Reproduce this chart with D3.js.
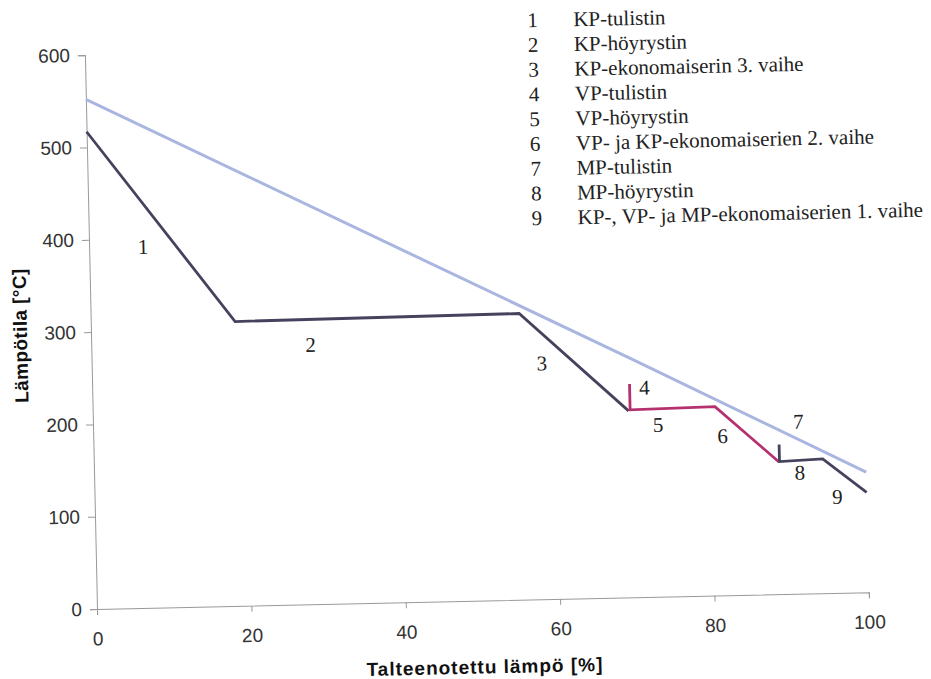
<!DOCTYPE html>
<html>
<head>
<meta charset="utf-8">
<script src="https://cdn.jsdelivr.net/npm/d3@7"></script>
<style>
  html, body { margin: 0; padding: 0; background: #fff; }
  svg { display: block; }
</style>
</head>
<body>
<svg id="chart" width="931" height="679"></svg>
<script>
// ---- data ----
const xTicks = [0, 20, 40, 60, 80, 100];
const yTicks = [0, 100, 200, 300, 400, 500, 600];
const xTitle = "Talteenotettu lämpö [%]";
const yTitle = "Lämpötila [°C]";

// hot flue gas line (x = recovered heat %, y = temperature °C)
const gasX = [0, 69.7, 100];
const gasY = [552, 259, 130];

// water/steam side segments
const kpX = [0, 18.7, 55.5, 69.4];
const kpY = [517, 308, 310, 202];
const vpX = [69.6, 69.6, 80.6, 88.7];
const vpY = [231, 203, 204.5, 143.4];
const mpX = [88.8, 88.8, 94.4, 100];
const mpY = [162, 143.5, 145.3, 108];

// segment number labels placed in data coordinates
const labelNums = ["1", "2", "3", "4", "5", "6", "7", "8", "9"];
const labelX = [7.0, 28.4, 58.3, 71.5, 73.2, 81.5, 91.35, 91.4, 96.2];
const labelY = [391, 281, 255.5, 226.7, 186, 172.5, 186.3, 131, 104];

// legend
const legendNums = ["1", "2", "3", "4", "5", "6", "7", "8", "9"];
const legendTexts = [
  "KP-tulistin",
  "KP-höyrystin",
  "KP-ekonomaiserin 3. vaihe",
  "VP-tulistin",
  "VP-höyrystin",
  "VP- ja KP-ekonomaiserien 2. vaihe",
  "MP-tulistin",
  "MP-höyrystin",
  "KP-, VP- ja MP-ekonomaiserien 1. vaihe"
];

// ---- drawing ----
const svg = d3.select("#chart");
const ox = 97, oy = 609, pw = 772, ph = 554;
const x = d3.scaleLinear().domain([0, 100]).range([ox, ox + pw]);
const y = d3.scaleLinear().domain([0, 600]).range([oy, oy - ph]);

// the scanned page is slightly tilted
const root = svg.append("g").attr("transform", `rotate(-1.25, ${ox}, ${oy})`);

const sans = "'Liberation Sans', Arial, Helvetica, sans-serif";
const serif = "'Liberation Serif', 'Times New Roman', serif";

// axes
const xAxis = d3.axisBottom(x).tickValues(xTicks).tickSize(6).tickPadding(17).tickFormat(d3.format("d"));
const yAxis = d3.axisLeft(y).tickValues(yTicks).tickSize(7).tickPadding(8).tickFormat(d3.format("d"));

const gx = root.append("g").attr("transform", `translate(0,${oy})`).call(xAxis);
const gy = root.append("g").attr("transform", `translate(${ox},0)`).call(yAxis);
[gx, gy].forEach(g => {
  g.select(".domain").attr("stroke", "#999").attr("stroke-width", 1);
  g.selectAll(".tick line").attr("stroke", "#999").attr("stroke-width", 1);
  g.selectAll(".tick text").attr("fill", "#333").style("font-family", sans).style("font-size", "19px");
});

// titles
root.append("text")
  .attr("x", 483.6).attr("y", 675.4)
  .attr("text-anchor", "middle").attr("dominant-baseline", "central")
  .style("font-family", sans).style("font-size", "19px").style("font-weight", "bold")
  .style("letter-spacing", "1px").attr("fill", "#111")
  .text(xTitle);
root.append("text")
  .attr("transform", "translate(26.5,334) rotate(-90)")
  .attr("text-anchor", "middle").attr("dominant-baseline", "central")
  .style("font-family", sans).style("font-size", "19px").style("font-weight", "bold")
  .style("letter-spacing", "0.4px").attr("fill", "#111")
  .text(yTitle);

// lines
const line = d3.line().x(d => x(d[0])).y(d => y(d[1]));
function pts(xs, ys) { return xs.map((v, i) => [v, ys[i]]); }

root.append("path").datum(pts(gasX, gasY)).attr("d", line)
  .attr("fill", "none").attr("stroke", "#a9b6e0").attr("stroke-width", 3);
root.append("path").datum(pts(kpX, kpY)).attr("d", line)
  .attr("fill", "none").attr("stroke", "#46425e").attr("stroke-width", 2.8).attr("stroke-linejoin", "miter");
root.append("path").datum(pts(vpX, vpY)).attr("d", line)
  .attr("fill", "none").attr("stroke", "#b5306f").attr("stroke-width", 2.8).attr("stroke-linejoin", "miter");
root.append("path").datum(pts(mpX, mpY)).attr("d", line)
  .attr("fill", "none").attr("stroke", "#46425e").attr("stroke-width", 2.8).attr("stroke-linejoin", "miter");

// segment labels
root.append("g").selectAll("text").data(labelNums).join("text")
  .attr("x", (d, i) => x(labelX[i])).attr("y", (d, i) => y(labelY[i]))
  .attr("text-anchor", "middle").attr("dominant-baseline", "central")
  .style("font-family", serif).style("font-size", "21px").attr("fill", "#222")
  .text(d => d);

// legend
const lg = root.append("g");
const rowY0 = 29.8, rowStep = 24.75;
lg.selectAll("text.num").data(legendNums).join("text").attr("class", "num")
  .attr("x", 540).attr("y", (d, i) => rowY0 + i * rowStep)
  .attr("dominant-baseline", "central")
  .style("font-family", serif).style("font-size", "21px").attr("fill", "#222")
  .text(d => d);
lg.selectAll("text.lab").data(legendTexts).join("text").attr("class", "lab")
  .attr("x", 586).attr("y", (d, i) => rowY0 + i * rowStep)
  .attr("dominant-baseline", "central")
  .style("font-family", serif).style("font-size", "21px").attr("fill", "#222")
  .text(d => d);
</script>
</body>
</html>
